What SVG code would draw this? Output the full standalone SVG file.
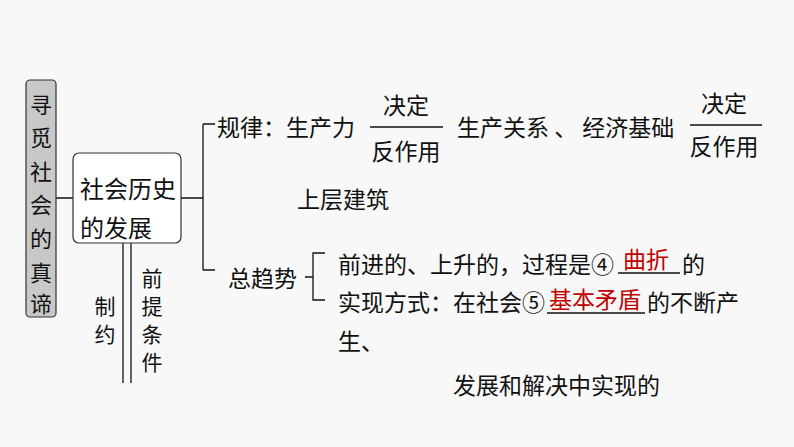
<svg xmlns="http://www.w3.org/2000/svg" width="794" height="447" viewBox="0 0 794 447">
<style>
text{font-family:"Noto Sans CJK SC","Noto Sans",sans-serif;font-size:23px;fill:#111;dominant-baseline:central}
.v{font-size:22px}
.r{fill:#c00000}
.l{stroke:#111;stroke-width:1.3;fill:none}
</style>
<rect width="794" height="447" fill="#f8f8f8"/>
<g id="connectors" class="l">
<path d="M56 198H73M181 198H203M203 124V270M203 124H215M203 270H215"/>
<path d="M123 243V383M131 243V383"/>
<path d="M305 277H313M325 253H313V300H325"/>
<path d="M370 127H443M690 125H762"/>
<path d="M618 273H680M547 313H645"/>
</g>
<g id="root">
<rect x="26" y="80" width="30" height="237" rx="4" fill="#c8c8c8" stroke="#333" stroke-width="1.2"/>
<text class="v" x="41" y="103" text-anchor="middle">寻</text>
<text class="v" x="41" y="136" text-anchor="middle">觅</text>
<text class="v" x="41" y="170" text-anchor="middle">社</text>
<text class="v" x="41" y="203" text-anchor="middle">会</text>
<text class="v" x="41" y="237" text-anchor="middle">的</text>
<text class="v" x="41" y="271" text-anchor="middle">真</text>
<text class="v" x="41" y="302" text-anchor="middle">谛</text>
</g>
<g id="history">
<rect x="73" y="153" width="108" height="90" rx="6" fill="#fff" stroke="#333" stroke-width="1.2"/>
<text x="80" y="187" style="font-size:24px">社会历史</text>
<text x="80" y="226" style="font-size:24px">的发展</text>
</g>
<g id="constraint">
<text style="font-size:21px" x="105" y="305" text-anchor="middle">制</text>
<text style="font-size:21px" x="105" y="333" text-anchor="middle">约</text>
</g>
<g id="premise">
<text style="font-size:21px" x="152" y="277" text-anchor="middle">前</text>
<text style="font-size:21px" x="152" y="305" text-anchor="middle">提</text>
<text style="font-size:21px" x="152" y="333" text-anchor="middle">条</text>
<text style="font-size:21px" x="152" y="361" text-anchor="middle">件</text>
</g>
<g id="law">
<text x="217" y="126">规律：生产力</text>
<text x="406" y="104" text-anchor="middle">决定</text>
<text x="406" y="150" text-anchor="middle">反作用</text>
<text x="457" y="126">生产关系 、 经济基础</text>
<text x="724" y="102" text-anchor="middle">决定</text>
<text x="724" y="145" text-anchor="middle">反作用</text>
<text x="297" y="198">上层建筑</text>
</g>
<g id="trend">
<text x="228" y="277">总趋势</text>
<text x="338" y="263">前进的、上升的，过程是④</text>
<text x="623" y="258" class="r">曲折</text>
<text x="682" y="263">的</text>
<text x="338" y="301">实现方式：在社会⑤</text>
<text x="549" y="298" class="r">基本矛盾</text>
<text x="647" y="301">的不断产</text>
<text x="338" y="340">生、</text>
<text x="453" y="384">发展和解决中实现的</text>
</g>
</svg>
